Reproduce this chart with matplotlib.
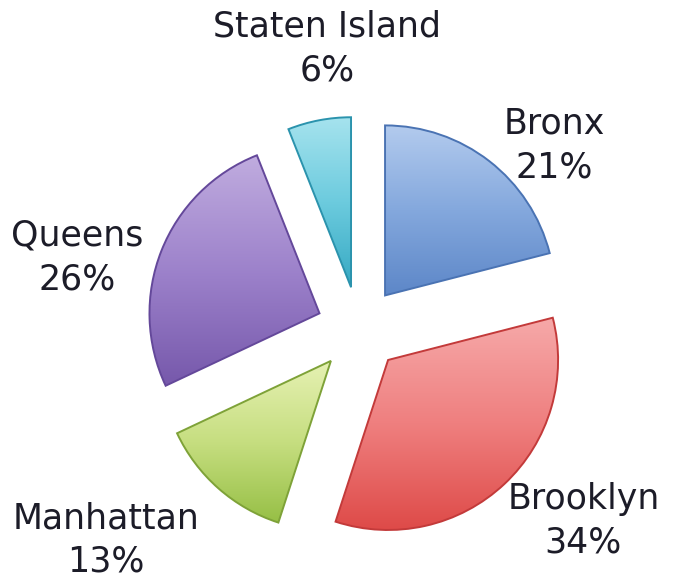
import matplotlib.pyplot as plt
import numpy as np
from matplotlib.colors import LinearSegmentedColormap

boroughs = ["Bronx", "Brooklyn", "Manhattan", "Queens", "Staten Island"]
shares = [21, 34, 13, 26, 6]

# top / middle / bottom colours of each slice
colors = [
    ["#b3cbee", "#84a8dd", "#5d87c8"],
    ["#f6a9a9", "#ef7f7f", "#de4a48"],
    ["#e6f1b3", "#c6de80", "#96bf45"],
    ["#c0acdf", "#9d82cb", "#7658ab"],
    ["#a6e3ee", "#6ccbde", "#36a9c3"],
]
edge_colors = ["#4a73b3", "#c33a3a", "#7ea238", "#64489a", "#2b93ad"]

label_pos = [(1.15, 1.08), (1.32, -1.13), (-1.49, -1.24), (-1.66, 0.42), (-0.19, 1.65)]

fig = plt.figure(figsize=(6.76, 5.82), dpi=100)
ax = fig.add_axes([0, 0, 1, 1])

wedges, _ = ax.pie(shares, startangle=90, counterclock=False, radius=1.0,
                   explode=[0.25] * len(shares),
                   wedgeprops=dict(linewidth=0))

ax.set_xlim(-359 / 170, (676 - 359) / 170)
ax.set_ylim(-(582 - 329) / 170, 329 / 170)
ax.set_aspect("auto")
ax.axis("off")

for w, cols, ec in zip(wedges, colors, edge_colors):
    bb = w.get_path().get_extents(w.get_patch_transform())
    grad = np.linspace(0, 1, 256).reshape(-1, 1)
    cmap = LinearSegmentedColormap.from_list("g", cols[::-1])
    im = ax.imshow(grad, extent=[bb.x0, bb.x1, bb.y0, bb.y1], origin="lower",
                   cmap=cmap, aspect="auto", zorder=2)
    im.set_clip_path(w)
    w.set_facecolor("none")
    w.set_edgecolor(ec)
    w.set_linewidth(1.4)
    w.set_zorder(3)

for name, val, (lx, ly) in zip(boroughs, shares, label_pos):
    ax.text(lx, ly, f"{name}\n{val}%", ha="center", va="center", fontsize=25,
            family="DejaVu Sans", color="#1c1c28", linespacing=1.35)

fig.savefig("out.png", dpi=100)
